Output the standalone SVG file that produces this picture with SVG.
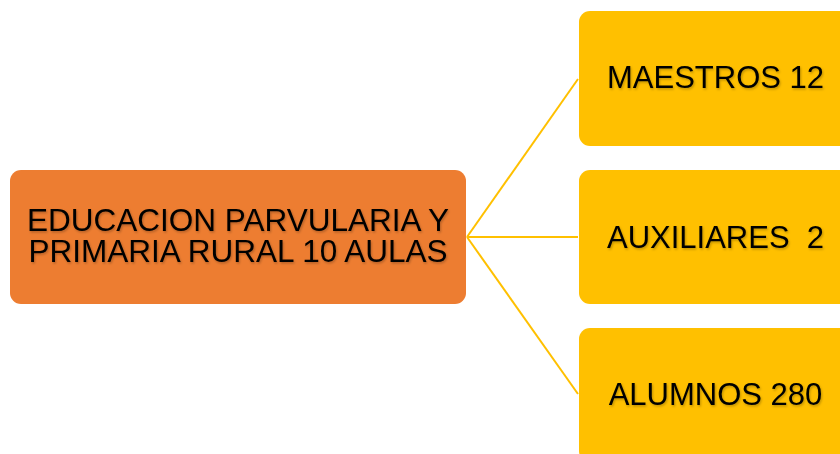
<svg xmlns="http://www.w3.org/2000/svg" width="840" height="454" viewBox="0 0 840 454">
<defs>
<style>
.root{fill:#ED7D31}
.leaf{fill:#FFC000}
.lbl{font-family:"Liberation Sans",Arial,sans-serif;font-size:31px;fill:#000;text-anchor:middle;filter:url(#sh)}
.big{font-size:31.5px}
.conn{stroke:#FFC000;stroke-width:2;fill:none}
</style>
<filter id="sh" x="-10%" y="-30%" width="120%" height="160%">
<feDropShadow dx="1" dy="1.5" stdDeviation="1" flood-color="#000" flood-opacity="0.25"/>
</filter>
</defs>
<rect width="840" height="454" fill="#fff"/>
<g id="connectors">
<line class="conn" x1="467" y1="237" x2="578" y2="79"/>
<line class="conn" x1="467" y1="237" x2="578" y2="237"/>
<line class="conn" x1="467" y1="237" x2="578" y2="394"/>
</g>
<g id="node-root">
<rect class="root" x="10" y="170" width="456" height="134" rx="11"/>
<text class="lbl big" x="238" y="231">EDUCACION PARVULARIA Y<tspan x="238" dy="31">PRIMARIA RURAL 10 AULAS</tspan></text>
</g>
<g id="node-maestros">
<rect class="leaf" x="579" y="11" width="272" height="135" rx="11"/>
<text class="lbl" x="715.5" y="88">MAESTROS 12</text>
</g>
<g id="node-auxiliares">
<rect class="leaf" x="579" y="170" width="272" height="134" rx="11"/>
<text class="lbl" x="715.5" y="248" xml:space="preserve">AUXILIARES  2</text>
</g>
<g id="node-alumnos">
<rect class="leaf" x="579" y="328" width="272" height="134" rx="11"/>
<text class="lbl" x="715.5" y="405">ALUMNOS 280</text>
</g>
</svg>
